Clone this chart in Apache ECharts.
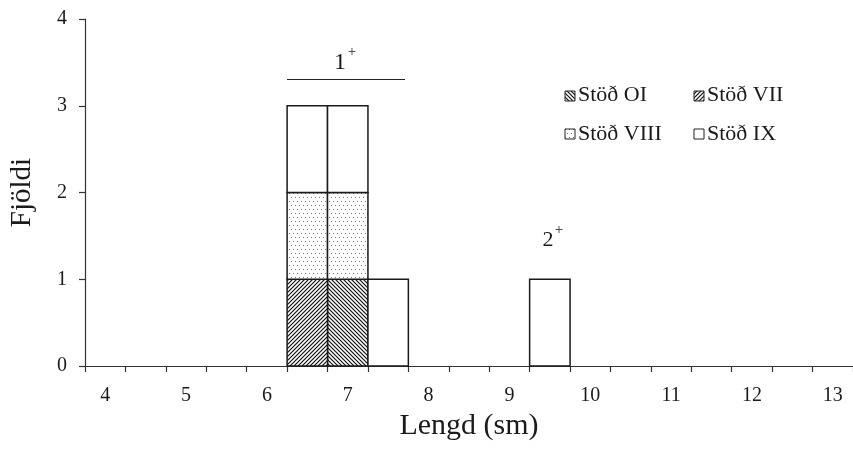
<!DOCTYPE html>
<html>
<head>
<meta charset="utf-8">
<script src="https://cdn.jsdelivr.net/npm/echarts@6/dist/echarts.min.js"></script>
<style>html,body{margin:0;padding:0;background:#fff;}#c{width:853px;height:454px;}</style>
</head>
<body>
<div id="c"></div>
<script>
// ---- data ----
const lengths = [6.5, 7.0, 7.5, 9.5];        // bin centres (sm)
const binWidth = 0.5;
const stodOI   = [0, 1, 0, 0];
const stodVII  = [1, 0, 0, 0];
const stodVIII = [1, 1, 0, 0];
const stodIX   = [1, 1, 1, 1];
const seriesNames = ['Stöð OI', 'Stöð VII', 'Stöð VIII', 'Stöð IX'];
const xLabelValues = [4, 5, 6, 7, 8, 9, 10, 11, 12, 13];
const xTickValues = [3.75, 4.25, 4.75, 5.25, 5.75, 6.25, 6.75, 7.25, 7.75, 8.25, 8.75, 9.25, 9.75, 10.25, 10.75, 11.25, 11.75, 12.25, 12.75, 13.25];
const yTicks = [0, 1, 2, 3, 4];

// ---- patterns ----
function hatch(dir) {
  const s = 4;
  const c = document.createElement('canvas'); c.width = s; c.height = s;
  const g = c.getContext('2d');
  g.fillStyle = '#fff'; g.fillRect(0, 0, s, s);
  g.strokeStyle = '#111'; g.lineWidth = 1.2; g.beginPath();
  if (dir > 0) { g.moveTo(-1, s + 1); g.lineTo(s + 1, -1); g.moveTo(-1, 1); g.lineTo(1, -1); g.moveTo(s - 1, s + 1); g.lineTo(s + 1, s - 1); }
  else { g.moveTo(-1, -1); g.lineTo(s + 1, s + 1); g.moveTo(-1, s - 1); g.lineTo(1, s + 1); g.moveTo(s - 1, -1); g.lineTo(s + 1, 1); }
  g.stroke();
  return c;
}
function dots() {
  const c = document.createElement('canvas'); c.width = 8; c.height = 8;
  const g = c.getContext('2d');
  g.fillStyle = '#fff'; g.fillRect(0, 0, 8, 8);
  g.fillStyle = '#777';
  g.fillRect(1, 1, 1, 1); g.fillRect(5, 1, 1, 1); g.fillRect(3, 5, 1, 1); g.fillRect(7, 5, 1, 1);
  return c;
}
const fills = [
  { image: hatch(-1), repeat: 'repeat' },
  { image: hatch(1), repeat: 'repeat' },
  { image: dots(), repeat: 'repeat' },
  '#ffffff'
];

// ---- stacking ----
const valuesList = [stodOI, stodVII, stodVIII, stodIX];
const base = lengths.map(() => 0);
const series = valuesList.map((vals, si) => {
  const data = [];
  vals.forEach((v, i) => {
    if (v > 0) data.push([lengths[i], base[i], base[i] + v]);
    base[i] += v;
  });
  return {
    type: 'custom', name: seriesNames[si], data: data,
    encode: { x: 0, y: [1, 2] },
    renderItem: function (params, api) {
      const x = api.value(0), y0 = api.value(1), y1 = api.value(2);
      const p0 = api.coord([x - binWidth / 2, y1]);
      const p1 = api.coord([x + binWidth / 2, y0]);
      return {
        type: 'rect',
        shape: { x: p0[0], y: p0[1], width: p1[0] - p0[0], height: p1[1] - p0[1] },
        style: { fill: fills[si], stroke: '#1a1a1a', lineWidth: 1.5 }
      };
    }
  };
});

const serif = 'Liberation Serif';
const chart = echarts.init(document.getElementById('c'), null, { renderer: 'canvas' });

const legendPos = [[565, 91, 95], [694, 91, 95], [565, 129, 134], [694, 129, 134]];
const graphics = [];
seriesNames.forEach((n, i) => {
  const p = legendPos[i];
  graphics.push({ type: 'rect', shape: { x: p[0], y: p[1], width: 10, height: 10 },
    style: { fill: fills[i], stroke: '#222', lineWidth: 1 } });
  graphics.push({ type: 'text', x: p[0] + 13, y: p[2],
    style: { text: n, font: '22px "' + serif + '"', fill: '#1a1a1a', verticalAlign: 'middle', align: 'left' } });
});
// annotations
graphics.push({ type: 'line', shape: { x1: 287, y1: 79.5, x2: 405, y2: 79.5 }, style: { stroke: '#222', lineWidth: 1.2 } });
graphics.push({ type: 'text', x: 340, y: 63, style: { text: '1', font: '24px "' + serif + '"', fill: '#1a1a1a', align: 'center', verticalAlign: 'middle' } });
graphics.push({ type: 'text', x: 352, y: 52, style: { text: '+', font: '15px "' + serif + '"', fill: '#1a1a1a', align: 'center', verticalAlign: 'middle' } });
graphics.push({ type: 'text', x: 548, y: 240, style: { text: '2', font: '22px "' + serif + '"', fill: '#1a1a1a', align: 'center', verticalAlign: 'middle' } });
graphics.push({ type: 'text', x: 559, y: 230, style: { text: '+', font: '15px "' + serif + '"', fill: '#1a1a1a', align: 'center', verticalAlign: 'middle' } });

chart.setOption({
  animation: false,
  backgroundColor: '#ffffff',
  grid: { left: 85, right: -2, top: 19, bottom: 88 },
  xAxis: {
    type: 'value', min: 3.75, max: 13.25,
    name: 'Lengd (sm)', nameLocation: 'middle', nameGap: 35,
    nameTextStyle: { fontFamily: serif, fontSize: 30, color: '#1a1a1a' },
    axisLine: { show: true, lineStyle: { color: '#333', width: 1.2 } },
    axisTick: { show: true, length: 6, customValues: xTickValues, lineStyle: { color: '#333', width: 1.2 } },
    axisLabel: { customValues: xLabelValues, fontFamily: serif, fontSize: 20, color: '#1a1a1a', margin: 20 },
    splitLine: { show: false }
  },
  yAxis: {
    type: 'value', min: yTicks[0], max: yTicks[yTicks.length - 1], interval: 1,
    name: 'Fjöldi', nameLocation: 'middle', nameGap: 48,
    nameTextStyle: { fontFamily: serif, fontSize: 29, color: '#1a1a1a' },
    axisLine: { show: true, lineStyle: { color: '#333', width: 1.2 } },
    axisTick: { show: true, length: 6, lineStyle: { color: '#333', width: 1.2 } },
    axisLabel: { fontFamily: serif, fontSize: 20, color: '#1a1a1a', margin: 18 },
    splitLine: { show: false }
  },
  series: series,
  graphic: graphics
});
</script>
</body>
</html>
